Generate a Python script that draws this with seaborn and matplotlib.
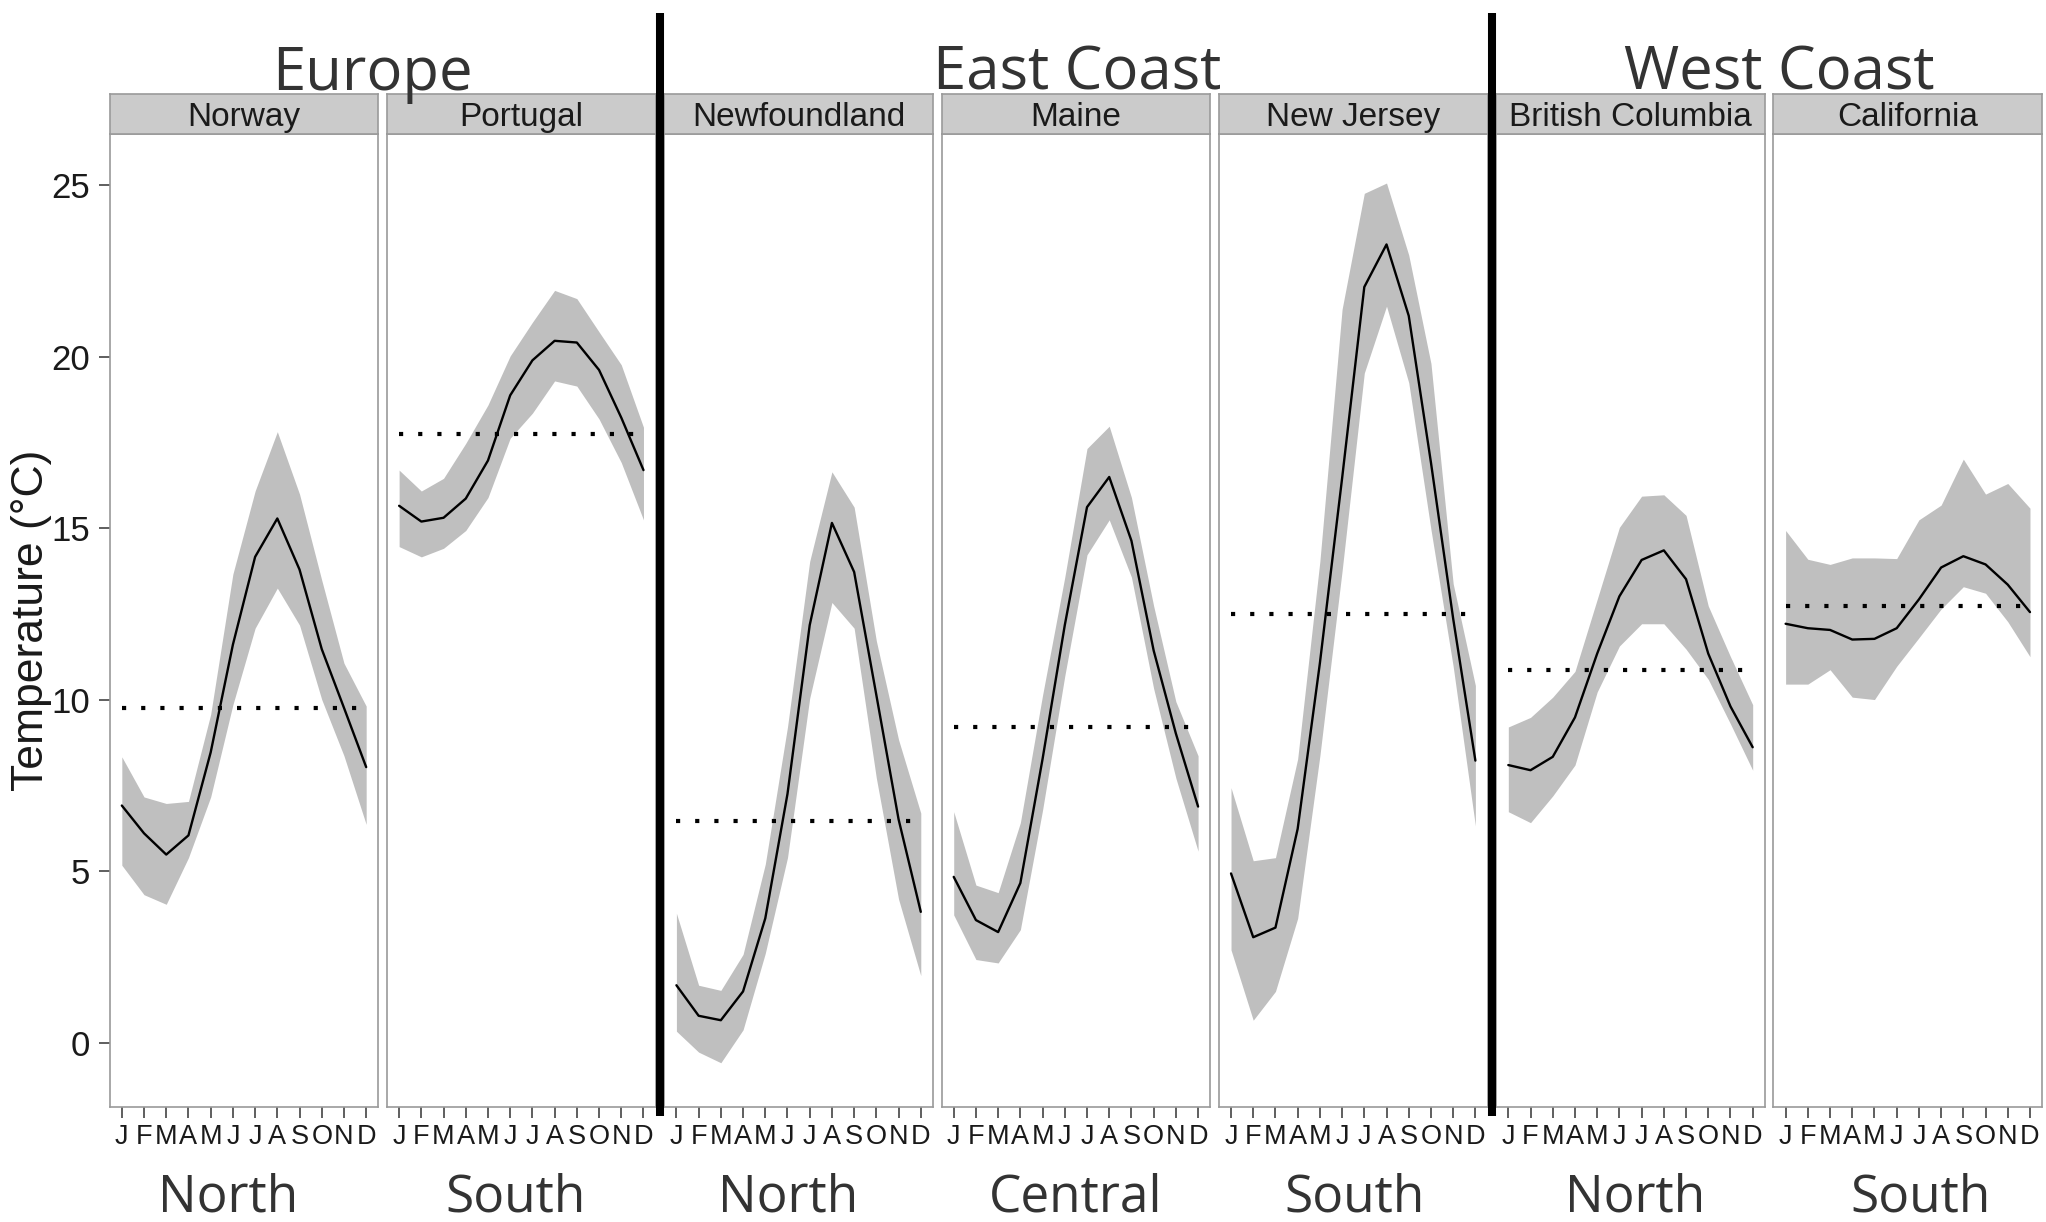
import numpy as np
import pandas as pd
import matplotlib
matplotlib.use("Agg")
import matplotlib.pyplot as plt
import seaborn as sns
from matplotlib.lines import Line2D

# ---------------- data ----------------
months = list(range(1, 13))
month_labels = ["J", "F", "M", "A", "M", "J", "J", "A", "S", "O", "N", "D"]
sites = ["Norway", "Portugal", "Newfoundland", "Maine", "New Jersey",
         "British Columbia", "California"]
groups = ["Europe", "East Coast", "West Coast"]
positions = ["North", "South", "North", "Central", "South", "North", "South"]

norway_mean = [6.91, 6.10, 5.48, 6.04, 8.46, 11.6, 14.16, 15.28, 13.79, 11.47, 9.76, 8.03]
norway_hi = [8.33, 7.16, 6.97, 7.03, 9.57, 13.66, 16.08, 17.81, 15.99, 13.48, 11.06, 9.81]
norway_lo = [5.17, 4.31, 4.03, 5.39, 7.16, 9.85, 12.08, 13.25, 12.17, 10.0, 8.36, 6.36]

portugal_mean = [15.65, 15.19, 15.30, 15.86, 16.97, 18.87, 19.89, 20.46, 20.41, 19.61, 18.22, 16.69]
portugal_hi = [16.69, 16.08, 16.45, 17.47, 18.59, 20.02, 21.0, 21.93, 21.69, 20.72, 19.76, 17.94]
portugal_lo = [14.46, 14.16, 14.41, 14.93, 15.89, 17.62, 18.35, 19.29, 19.14, 18.18, 16.91, 15.24]

newfoundland_mean = [1.67, 0.78, 0.65, 1.49, 3.62, 7.25, 12.17, 15.15, 13.72, 10.13, 6.51, 3.81]
newfoundland_hi = [3.77, 1.67, 1.52, 2.57, 5.2, 9.2, 14.03, 16.64, 15.61, 11.71, 8.83, 6.69]
newfoundland_lo = [0.33, -0.28, -0.59, 0.37, 2.6, 5.39, 10.04, 12.83, 12.08, 7.71, 4.18, 1.95]

maine_mean = [4.83, 3.57, 3.22, 4.65, 8.27, 12.17, 15.61, 16.49, 14.63, 11.43, 9.01, 6.88]
maine_hi = [6.73, 4.59, 4.37, 6.41, 10.13, 13.57, 17.32, 17.97, 15.89, 12.73, 9.94, 8.36]
maine_lo = [3.72, 2.42, 2.32, 3.29, 6.78, 10.69, 14.22, 15.24, 13.57, 10.32, 7.71, 5.58]

newjersey_mean = [4.93, 3.07, 3.35, 6.23, 11.06, 16.45, 22.03, 23.27, 21.19, 16.91, 12.36, 8.22]
newjersey_hi = [7.43, 5.3, 5.39, 8.27, 14.03, 21.38, 24.76, 25.06, 22.96, 19.8, 13.38, 10.41]
newjersey_lo = [2.7, 0.65, 1.49, 3.62, 8.36, 13.75, 19.52, 21.47, 19.24, 14.96, 10.97, 6.32]

bc_mean = [8.09, 7.94, 8.33, 9.48, 11.34, 13.01, 14.07, 14.35, 13.51, 11.34, 9.8, 8.61]
bc_hi = [9.2, 9.48, 10.07, 10.82, 12.92, 15.02, 15.93, 15.97, 15.37, 12.73, 11.25, 9.85]
bc_lo = [6.73, 6.41, 7.19, 8.09, 10.22, 11.56, 12.21, 12.21, 11.47, 10.59, 9.29, 7.94]

california_mean = [12.21, 12.08, 12.03, 11.75, 11.77, 12.08, 12.92, 13.85, 14.18, 13.94, 13.35, 12.55]
california_hi = [14.93, 14.09, 13.94, 14.13, 14.13, 14.11, 15.24, 15.67, 17.01, 15.99, 16.3, 15.58]
california_lo = [10.45, 10.45, 10.87, 10.07, 10.0, 10.97, 11.8, 12.64, 13.29, 13.1, 12.27, 11.25]

annual_means = [9.76, 17.75, 6.45, 9.2, 12.49, 10.87, 12.73]

series = {
    "Norway": (norway_mean, norway_lo, norway_hi),
    "Portugal": (portugal_mean, portugal_lo, portugal_hi),
    "Newfoundland": (newfoundland_mean, newfoundland_lo, newfoundland_hi),
    "Maine": (maine_mean, maine_lo, maine_hi),
    "New Jersey": (newjersey_mean, newjersey_lo, newjersey_hi),
    "British Columbia": (bc_mean, bc_lo, bc_hi),
    "California": (california_mean, california_lo, california_hi),
}

rows = []
for s in sites:
    m, lo, hi = series[s]
    for i, mo in enumerate(months):
        rows.append({"site": s, "month": mo, "temp": m[i], "lo": lo[i], "hi": hi[i]})
df = pd.DataFrame(rows)

# ---------------- style ----------------
sns.set_theme(style="white")
plt.rcParams["font.family"] = ["Liberation Sans", "DejaVu Sans"]

W, H = 2046, 1222
fig = plt.figure(figsize=(W / 100, H / 100), dpi=100)
fig.patch.set_facecolor("white")

def fx(px):
    return px / W

def fy(py):
    return 1 - py / H

panel_left0 = 109.6
panel_w = 268.8
panel_step = 277.3
panel_top = 134
panel_bot = 1107
strip_top = 94

border_col = "#9a9a9a"
ylim = (-1.88, 26.49)
xlim = (0.45, 12.55)

for i, s in enumerate(sites):
    left = panel_left0 + i * panel_step
    ax = fig.add_axes([fx(left), fy(panel_bot), fx(panel_w), (panel_bot - panel_top) / H])
    sub = df[df["site"] == s]
    ax.fill_between(sub["month"], sub["lo"], sub["hi"], color="#bfbfbf", lw=0, zorder=1)
    sns.lineplot(data=sub, x="month", y="temp", ax=ax, color="black", lw=1.7,
                 zorder=3, legend=False)
    ax.hlines(annual_means[i], months[0], months[-1], colors="black", lw=3.0,
              linestyles=(0, (1, 3.6)), zorder=4)
    ax.set_xlim(*xlim)
    ax.set_ylim(*ylim)
    ax.set_xlabel("")
    ax.set_ylabel("")
    ax.set_xticks(months)
    ax.set_xticklabels(month_labels, fontsize=19.5, color="#1a1a1a")
    ax.tick_params(axis="x", bottom=True, length=8, width=1.1, color="#333333", pad=4)
    if i == 0:
        ax.set_yticks([0, 5, 10, 15, 20, 25])
        ax.set_yticklabels(["0", "5", "10", "15", "20", "25"], fontsize=25, color="#1a1a1a")
        ax.tick_params(axis="y", left=True, length=8, width=1.1, color="#333333", pad=6)
    else:
        ax.set_yticks([])
    ax.set_facecolor("white")
    for sp in ax.spines.values():
        sp.set_visible(True)
        sp.set_color(border_col)
        sp.set_linewidth(1.2)
    ax.grid(False)

    # strip
    sax = fig.add_axes([fx(left), fy(panel_top), fx(panel_w), (panel_top - strip_top) / H])
    sax.set_facecolor("#cbcbcb")
    sax.set_xticks([])
    sax.set_yticks([])
    for sp in sax.spines.values():
        sp.set_visible(True)
        sp.set_color(border_col)
        sp.set_linewidth(1.2)
    sax.text(0.5, 0.42, s, ha="center", va="center", fontsize=24, color="#1a1a1a",
             transform=sax.transAxes)

# y-axis title
fig.text(fx(32), fy(620), "Temperature (°C)", rotation=90, ha="center", va="center",
         fontsize=32, color="#1a1a1a")

# group titles
title_font = ["Open Sans", "DejaVu Sans"]
for name, cx in zip(groups, [372, 1077, 1779]):
    fig.text(fx(cx), fy(90), name, ha="center", va="baseline", fontsize=43,
             color="#333333", family=title_font)

# bottom position labels
for name, cx in zip(positions, [228, 515.5, 788, 1076, 1354.6, 1635, 1921]):
    fig.text(fx(cx), fy(1211), name, ha="center", va="baseline", fontsize=37,
             color="#333333", family=title_font)

# thick separators
for xpx in [660, 1492]:
    fig.add_artist(Line2D([fx(xpx), fx(xpx)], [fy(13), fy(1116)], transform=fig.transFigure,
                          color="black", lw=5.8, solid_capstyle="butt"))

fig.savefig("out.png", dpi=100, facecolor="white")
